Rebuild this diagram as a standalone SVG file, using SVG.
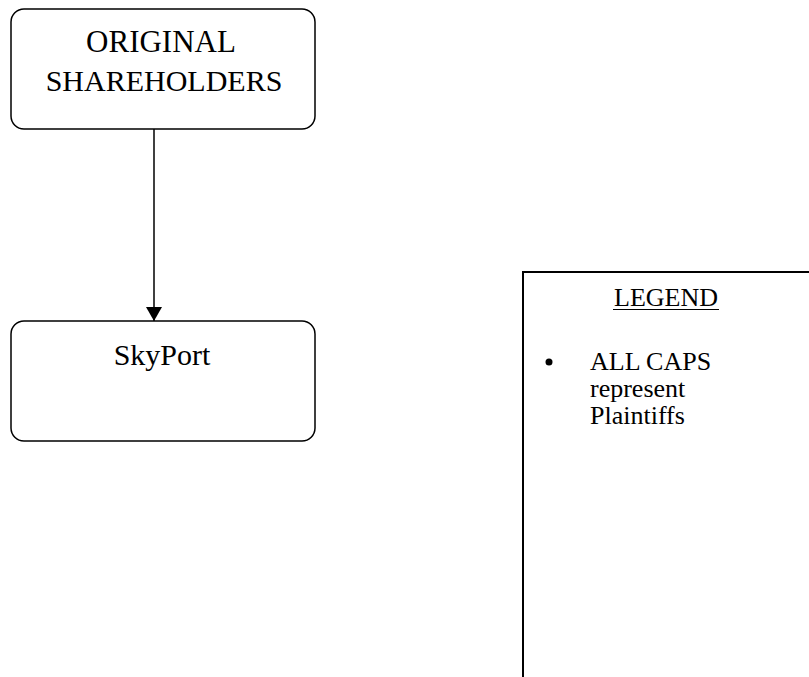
<svg xmlns="http://www.w3.org/2000/svg" width="809" height="677" viewBox="0 0 809 677">
<style>
.box{fill:#fff;stroke:#000;stroke-width:1.5}
.t{font-family:"Liberation Serif","Times New Roman",serif;fill:#000;text-anchor:middle}
.l{font-family:"Liberation Serif","Times New Roman",serif;fill:#000}
</style>
<defs>
<marker id="ah" markerWidth="14" markerHeight="16" refX="14" refY="8" orient="auto" markerUnits="userSpaceOnUse">
<path d="M0,0 L14,8 L0,16 Z" fill="#000"/>
</marker>
</defs>
<rect width="809" height="677" fill="#fff"/>
<g id="connectors">
<line x1="154" y1="129" x2="154" y2="321" stroke="#000" stroke-width="1.5" marker-end="url(#ah)"/>
</g>
<g id="original-shareholders">
<rect class="box" x="11" y="9" width="304" height="120" rx="13"/>
<text class="t" x="161" y="52" font-size="31">ORIGINAL</text>
<text class="t" x="164" y="91" font-size="30">SHAREHOLDERS</text>
</g>
<g id="skyport">
<rect class="box" x="11" y="321" width="304" height="120" rx="13"/>
<text class="t" x="162" y="365" font-size="30">SkyPort</text>
</g>
<g id="legend">
<path d="M523,677 L523,272 L809,272" fill="none" stroke="#000" stroke-width="2"/>
<text class="t" x="666" y="306" font-size="26">LEGEND</text>
<line x1="613" y1="309.5" x2="719" y2="309.5" stroke="#000" stroke-width="1.2"/>
<circle cx="549" cy="362" r="3.5" fill="#000"/>
<text class="l" x="590" y="370" font-size="26">ALL CAPS</text>
<text class="l" x="590" y="397" font-size="26">represent</text>
<text class="l" x="590" y="424" font-size="26">Plaintiffs</text>
</g>
</svg>
